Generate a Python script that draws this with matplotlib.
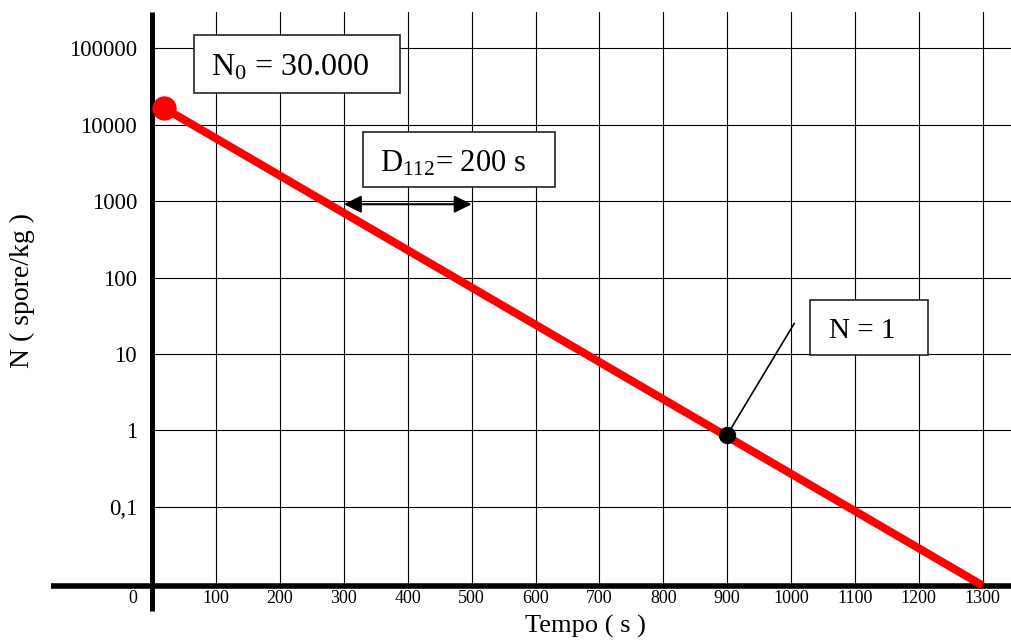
import matplotlib.pyplot as plt
from matplotlib.patches import Rectangle
from matplotlib.ticker import NullLocator

plt.rcParams['font.family'] = 'Liberation Serif'
plt.rcParams['mathtext.fontset'] = 'custom'
plt.rcParams['mathtext.rm'] = 'Liberation Serif'
plt.rcParams['mathtext.default'] = 'rm'

# data
tempo_ticks = [100, 200, 300, 400, 500, 600, 700, 800, 900, 1000, 1100, 1200, 1300]
n_ticks = [0.1, 1, 10, 100, 1000, 10000, 100000]
n_tick_labels = ['0,1', '1', '10', '100', '1000', '10000', '100000']
line_t = [19, 1300]
line_n = [16400, 0.0093]
start_t, start_n = 19, 16400
n1_t, n1_n = 900, 0.87
d_from, d_to, d_level = 300, 500, 910

W, H = 1012, 643
x_max = 1346
y_min, y_max = 0.00925, 296000

fig = plt.figure(figsize=(W / 100, H / 100), dpi=100)
ax = fig.add_axes([152.3 / W, 1 - 585.7 / H, (W - 152.3) / W, (585.7 - 12.3) / H])
ax.set_xlim(0, x_max)
ax.set_yscale('log')
ax.set_ylim(y_min, y_max)

for s in ax.spines.values():
    s.set_visible(False)

ax.set_xticks(tempo_ticks, [str(t) for t in tempo_ticks])
ax.set_yticks(n_ticks, n_tick_labels)
ax.yaxis.set_minor_locator(NullLocator())
ax.tick_params(length=0)
ax.tick_params(axis='x', labelsize=13, pad=3)
ax.tick_params(axis='y', labelsize=16.5, pad=11)
ax.grid(True, color='black', lw=0.8)
ax.set_axisbelow(True)

# thick axis lines, running a bit past the origin
ax.plot([-159, x_max], [y_min, y_min], color='black', lw=4, clip_on=False,
        solid_capstyle='butt', zorder=3)
ax.plot([0, 0], [0.00435, y_max], color='black', lw=3.6, clip_on=False,
        solid_capstyle='butt', zorder=3)
ax.text(-30, -0.0073, '0', transform=ax.get_xaxis_transform(),
        ha='center', va='top', fontsize=13)

# survival line
ax.plot(line_t, line_n, color='#ff0000', lw=5.8, solid_capstyle='butt', zorder=5, clip_on=False)
ax.plot([start_t], [start_n], 'o', color='#ff0000', ms=16.5, zorder=6, clip_on=False)

# N = 1 point and leader
ax.plot([n1_t, 1005], [n1_n, 25], color='black', lw=1.2, zorder=6)
ax.plot([n1_t], [n1_n], 'o', color='black', ms=11.5, zorder=7)

# D value arrow
ax.annotate('', xy=(d_to, d_level), xytext=(d_from, d_level),
            arrowprops=dict(arrowstyle='<|-|>,head_length=0.7,head_width=0.35',
                            mutation_scale=15, color='black', lw=1.5,
                            shrinkA=0, shrinkB=0), zorder=6)


def boxed(x0, y0, x1, y1, label, tx, ty, size):
    fig.add_artist(Rectangle((x0 / W, 1 - y1 / H), (x1 - x0) / W, (y1 - y0) / H,
                             transform=fig.transFigure, facecolor='white',
                             edgecolor='#222222', lw=1.2, zorder=5))
    fig.text(tx / W, 1 - ty / H, label, ha='center', va='baseline',
             fontsize=size, zorder=6)


boxed(194, 35, 400, 92.7, r'N$_0$ = 30.000', 290.5, 75, 23)
boxed(363, 132, 555, 187, r'D$_{112}$= 200 s', 453.5, 171.7, 22)
boxed(810, 300, 927.7, 355, 'N = 1', 862.7, 338.3, 21)

fig.text(585 / W, 1 - 626 / H, 'Tempo ( s )', ha='center', va='center', fontsize=19)
fig.text(22 / W, 1 - 291 / H, 'N ( spore/kg )', ha='center', va='center',
         fontsize=20, rotation=90)

plt.savefig('out.png', dpi=100)
